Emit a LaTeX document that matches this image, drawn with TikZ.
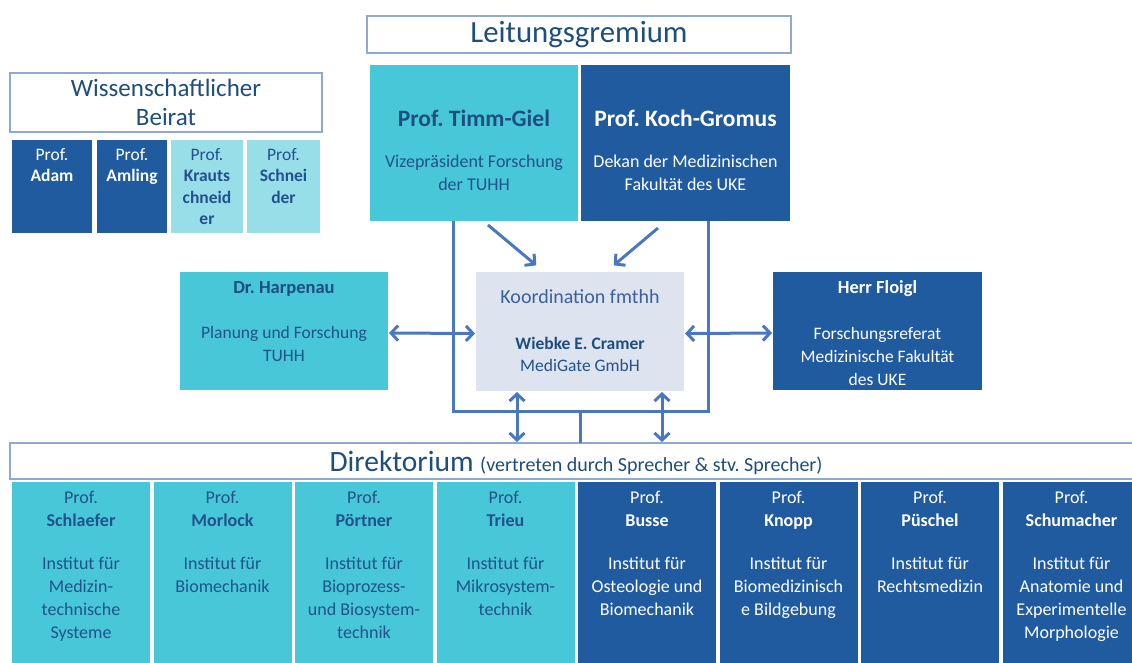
\documentclass[tikz,border=0pt]{standalone}
\usepackage{fontspec}
\setmainfont{Carlito}
\usetikzlibrary{arrows.meta}
\definecolor{teal1}{RGB}{72,199,216}
\definecolor{dblue}{RGB}{31,91,158}
\definecolor{lteal}{RGB}{152,222,233}
\definecolor{coordfill}{RGB}{221,228,240}
\definecolor{bordc}{RGB}{143,170,204}
\definecolor{arrc}{RGB}{74,120,192}
\definecolor{txtd}{RGB}{33,82,140}
\definecolor{titc}{RGB}{30,78,125}
\newcommand{\fs}[2]{\fontsize{#1}{#2}\selectfont}
\begin{document}
\frenchspacing
\begin{tikzpicture}[x=1pt,y=-1pt,
  box/.style={draw=none,inner sep=0pt,outer sep=0pt,anchor=north west},
  hbox/.style={box,draw=bordc,line width=1.5pt,fill=white},
  txt/.style={inner sep=0pt,outer sep=0pt,align=center},
  conn/.style={draw=arrc,line width=3pt},
  arr/.style={conn,-{Straight Barb[length=7pt,width=15pt]},shorten >=1pt},
  darr/.style={conn,{Straight Barb[length=7pt,width=15pt]}-{Straight Barb[length=7pt,width=15pt]},shorten >=1pt,shorten <=1pt},
]
\clip (0,0) rectangle (1132,662);
\fill[white] (0,0) rectangle (1132,662);

% Leitungsgremium
\node[hbox,minimum width=424pt,minimum height=37pt] (lg) at (367,16) {};
\node[txt,text=titc,font=\fs{30.8}{34}] (lgt) at (lg.center) {Leitungsgremium};
\node[box,fill=teal1,minimum width=208pt,minimum height=156pt] (tg) at (370,65) {};
\node[txt,text=txtd,font=\fs{18}{23}] (tgt) at (474,150) {{\fs{23.5}{26}\bfseries\color{titc}Prof. Timm-Giel}\\[18pt]Vizepräsident Forschung\\der TUHH};
\node[box,fill=dblue,minimum width=209pt,minimum height=156pt] (kg) at (581,65) {};
\node[txt,text=white,font=\fs{18}{23}] (kgt) at (685.5,150) {{\fs{23.5}{26}\bfseries Prof. Koch-Gromus}\\[18pt]Dekan der Medizinischen\\Fakultät des UKE};

% Wissenschaftlicher Beirat
\node[hbox,minimum width=312pt,minimum height=59pt] (wb) at (10,73) {};
\node[txt,text=titc,font=\fs{25}{29}] (wbt) at (wb.center) {Wissenschaftlicher\\Beirat};
\node[box,fill=dblue,minimum width=80pt,minimum height=93pt] (b1) at (12,140) {};
\node[box,fill=dblue,minimum width=70pt,minimum height=93pt] (b2) at (97,140) {};
\node[box,fill=lteal,minimum width=72pt,minimum height=93pt] (b3) at (171,140) {};
\node[box,fill=lteal,minimum width=73pt,minimum height=93pt] (b4) at (247,140) {};
\node[txt,text=white,font=\fs{17.5}{21.5},anchor=north] (b1t) at ([yshift=-8pt]b1.north) {Prof.\\\textbf{Adam}};
\node[txt,text=white,font=\fs{17.5}{21.5},anchor=north] (b2t) at ([yshift=-8pt]b2.north) {Prof.\\\textbf{Amling}};
\node[txt,text=txtd,font=\fs{17.5}{21.5},anchor=north] (b3t) at ([yshift=-8pt]b3.north) {Prof.\\\textbf{Krauts}\\\textbf{chneid}\\\textbf{er}};
\node[txt,text=txtd,font=\fs{17.5}{21.5},anchor=north] (b4t) at ([yshift=-8pt]b4.north) {Prof.\\\textbf{Schnei}\\\textbf{der}};

% middle row
\node[box,fill=teal1,minimum width=208pt,minimum height=118pt] (hp) at (180,272) {};
\node[txt,text=txtd,font=\fs{17.5}{22.5},anchor=north] (hpt) at ([yshift=-9pt]hp.north) {{\fs{18.5}{22}\bfseries\color{titc}Dr. Harpenau}\\[23pt]Planung und Forschung\\TUHH};
\node[box,fill=coordfill,minimum width=208pt,minimum height=119pt] (ko) at (476,272) {};
\node[txt,text=txtd,font=\fs{17.5}{22.5},anchor=north] (kot) at ([yshift=-18pt]ko.north) {{\fs{20}{23}\color{arrc!80!black}Koordination fmthh}\\[23pt]{\bfseries\color{titc}Wiebke E. Cramer}\\MediGate GmbH};
\node[box,fill=dblue,minimum width=209pt,minimum height=118pt] (fl) at (773,272) {};
\node[txt,text=white,font=\fs{17.5}{22.8},anchor=north] (flt) at ([yshift=-9pt]fl.north) {{\fs{18.5}{22}\bfseries Herr Floigl}\\[23pt]Forschungsreferat\\Medizinische Fakultät\\des UKE};

% Direktorium
\node[hbox,minimum width=1130pt,minimum height=36pt] (dk) at (10,443) {};
\node[txt,text=titc,anchor=base] (dkt) at (576,471) {{\fs{29.5}{32}Direktorium }{\fs{20}{22}(vertreten durch Sprecher \& stv. Sprecher)}};

\foreach \i/\col/\tc/\nm/\inst in {
 0/teal1/txtd/Schlaefer/{Institut für\\Medizin-\\technische\\Systeme},
 1/teal1/txtd/Morlock/{Institut für\\Biomechanik},
 2/teal1/txtd/Pörtner/{Institut für\\Bioprozess-\\und Biosystem-\\technik},
 3/teal1/txtd/Trieu/{Institut für\\Mikrosystem-\\technik},
 4/dblue/white/Busse/{Institut für\\Osteologie und\\Biomechanik},
 5/dblue/white/Knopp/{Institut für\\Biomedizinisch\\e Bildgebung},
 6/dblue/white/Püschel/{Institut für\\Rechtsmedizin},
 7/dblue/white/Schumacher/{Institut für\\Anatomie und\\Experimentelle\\Morphologie}}{
  \node[box,fill=\col,minimum width=138pt,minimum height=190pt] (d\i) at (12+141.5*\i,482) {};
  \node[txt,text=\tc,font=\fs{18}{23},anchor=north] (d\i t) at ([yshift=-9pt]d\i.north) {Prof.\\\textbf{\nm}\\[20pt]\inst};
}

% connectors
\coordinate (lv) at (453,411);
\coordinate (rv) at (708,411);
\coordinate (stem) at (580,411);
\draw[conn,line join=miter] (tg.south -| lv) -- (lv) -- (rv) -- (kg.south -| rv);
\draw[conn] (stem) -- (stem |- dk.north);
\draw[arr] ([shift={(14,4)}]tg.south) -- ([shift={(-43,-6)}]ko.north);
\draw[arr] ([shift={(-27.5,7)}]kg.south) -- ([shift={(33,-6)}]ko.north);
\draw[darr] ([yshift=-2pt]hp.east) -- ([yshift=-2pt]ko.west);
\draw[darr] ([yshift=-2pt]ko.east) -- ([yshift=-2pt]fl.west);
\draw[darr] ([xshift=41pt]ko.south west) -- ([xshift=41pt]ko.south west |- dk.north);
\draw[darr] ([xshift=186pt]ko.south west) -- ([xshift=186pt]ko.south west |- dk.north);
\end{tikzpicture}
\end{document}
